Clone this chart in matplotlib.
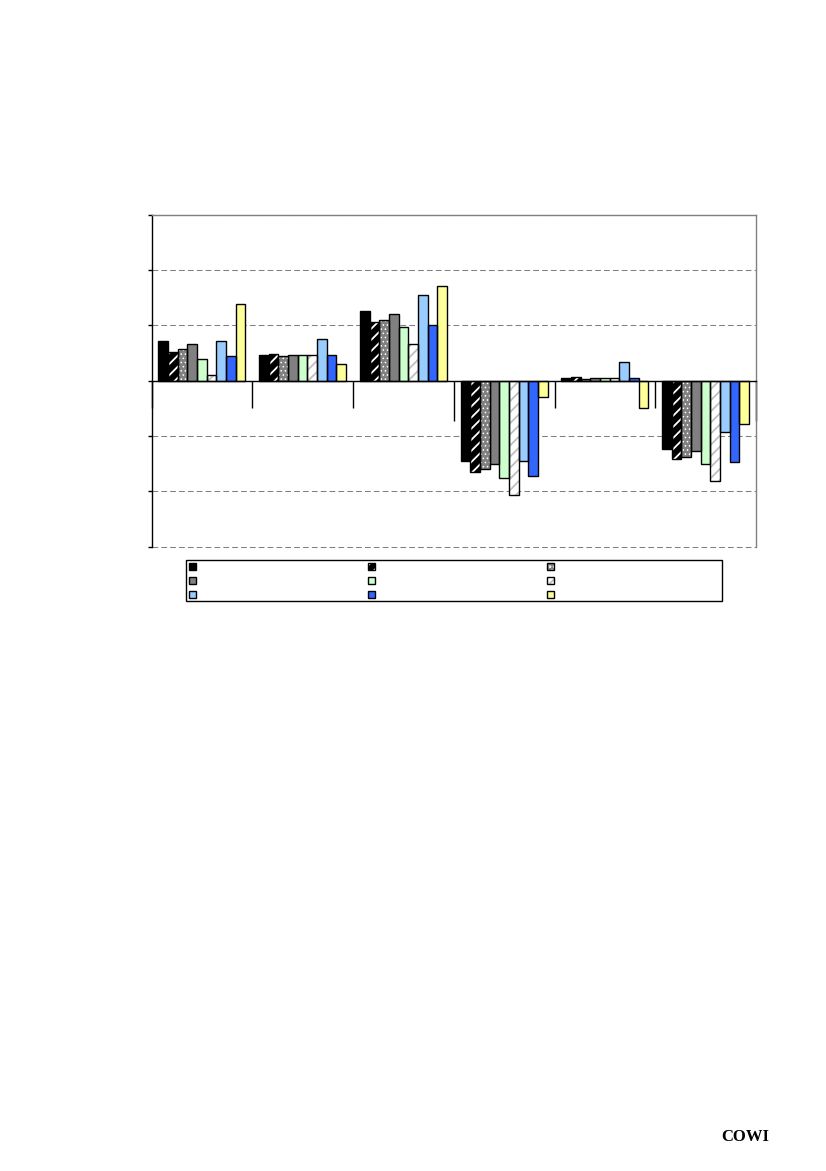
import matplotlib
matplotlib.use("Agg")
import matplotlib.pyplot as plt
import matplotlib.patches as mpatches
import numpy as np

plt.rcParams['hatch.linewidth'] = 1.3

# six categories (no visible labels in the source), nine series
n_cat = 6
s_black = [0.72, 0.46, 1.26, -1.45, 0.05, -1.23]
s_black_hatch = [0.52, 0.48, 1.07, -1.65, 0.06, -1.42]
s_grey_dots = [0.57, 0.44, 1.09, -1.60, 0.03, -1.38]
s_grey = [0.66, 0.46, 1.21, -1.51, 0.04, -1.27]
s_green = [0.40, 0.46, 0.97, -1.76, 0.04, -1.51]
s_white_hatch = [0.10, 0.46, 0.66, -2.07, 0.04, -1.82]
s_lightblue = [0.71, 0.75, 1.55, -1.45, 0.34, -0.93]
s_blue = [0.44, 0.46, 1.00, -1.73, 0.04, -1.47]
s_yellow = [1.38, 0.30, 1.71, -0.30, -0.50, -0.78]

series = [s_black, s_black_hatch, s_grey_dots, s_grey, s_green,
          s_white_hatch, s_lightblue, s_blue, s_yellow]
fills = ['#000000', '#000000', '#808080', '#808080', '#CCFFCC',
         '#FFFFFF', '#99CCFF', '#3366FF', '#FFFF99']
hatches = [None, '///', '....', None, None, '///', None, None, None]
hatch_cols = ['#000000', '#FFFFFF', '#FFFFFF', '#808080', '#CCFFCC',
              '#C0C0C0', '#99CCFF', '#3366FF', '#FFFF99']
hatch_lw = [1.3, 1.3, 0.6, 1.3, 1.3, 1.3, 1.3, 1.3, 1.3]

W, H = 826, 1171
fig = plt.figure(figsize=(W / 100, H / 100), dpi=100)
ax = fig.add_axes([151.5 / W, 1 - 546.6 / H, (756 - 151.5) / W, (546.6 - 214.8) / H])

x = np.arange(n_cat) + 0.5
bw = 0.096
handles = []
for i, vals in enumerate(series):
    xs = x + (i - 4) * bw
    fill = ax.bar(xs, vals, bw, color=fills[i], hatch=hatches[i],
                  edgecolor=hatch_cols[i], linewidth=0, zorder=2)
    for p in fill.patches:
        if hasattr(p, 'set_hatch_linewidth'):
            p.set_hatch_linewidth(hatch_lw[i])
    edge = ax.bar(xs, vals, bw, facecolor='none', edgecolor='black',
                  linewidth=1.0, zorder=3)
    handles.append((fill, edge))

ax.set_xlim(0, n_cat)
ax.set_ylim(-3, 3)
ax.set_yticks(np.arange(-3, 4))
ax.set_yticklabels([])
ax.set_xticks([0, 1, 2, 4, 5])
ax.set_xticks([3, 6], minor=True)
ax.set_xticklabels([])
ax.tick_params(axis='y', direction='out', length=3.2, width=1, color='black')
ax.tick_params(axis='x', which='major', direction='out', length=19.5, width=1, color='black')
ax.tick_params(axis='x', which='minor', direction='out', length=29, width=1, color='black')

ax.set_axisbelow(True)
ax.yaxis.grid(True, color='#808080', linewidth=0.75, linestyle=(0, (5.5, 3)))
for gl in ax.get_ygridlines():
    gl.set_clip_on(False)

ax.spines['bottom'].set_position(('data', 0))
ax.spines['bottom'].set_color('black')
ax.spines['bottom'].set_linewidth(1.0)
ax.spines['bottom'].set_zorder(4)
ax.spines['left'].set_color('black')
ax.spines['left'].set_linewidth(1.0)
for s in ['top', 'right']:
    ax.spines[s].set_color('#808080')
    ax.spines[s].set_linewidth(1.0)

# legend: 3 x 3, filled row by row
order = [0, 3, 6, 1, 4, 7, 2, 5, 8]
fs = 8
fs_px = fs * 100 / 72
leg = fig.legend([handles[k] for k in order], [''] * 9, ncol=3,
                 loc='upper left', bbox_to_anchor=(189 / W, 1 - 562.5 / H),
                 frameon=False, fontsize=fs, handlelength=0.63,
                 handleheight=0.63, handletextpad=0, borderpad=0,
                 borderaxespad=0, labelspacing=0.35,
                 columnspacing=(179 - 0.63 * fs_px) / fs_px)
fig.patches.append(mpatches.Rectangle((186 / W, 1 - 601 / H), (722 - 186) / W,
                                      41 / H, transform=fig.transFigure,
                                      fill=False, edgecolor='black',
                                      linewidth=1.0))

fig.text(745 / W, 1 - 1137 / H, 'COWI', ha='center', va='center',
         fontfamily='Liberation Serif', fontweight='bold', fontsize=12)

fig.savefig('out.png', dpi=100)
